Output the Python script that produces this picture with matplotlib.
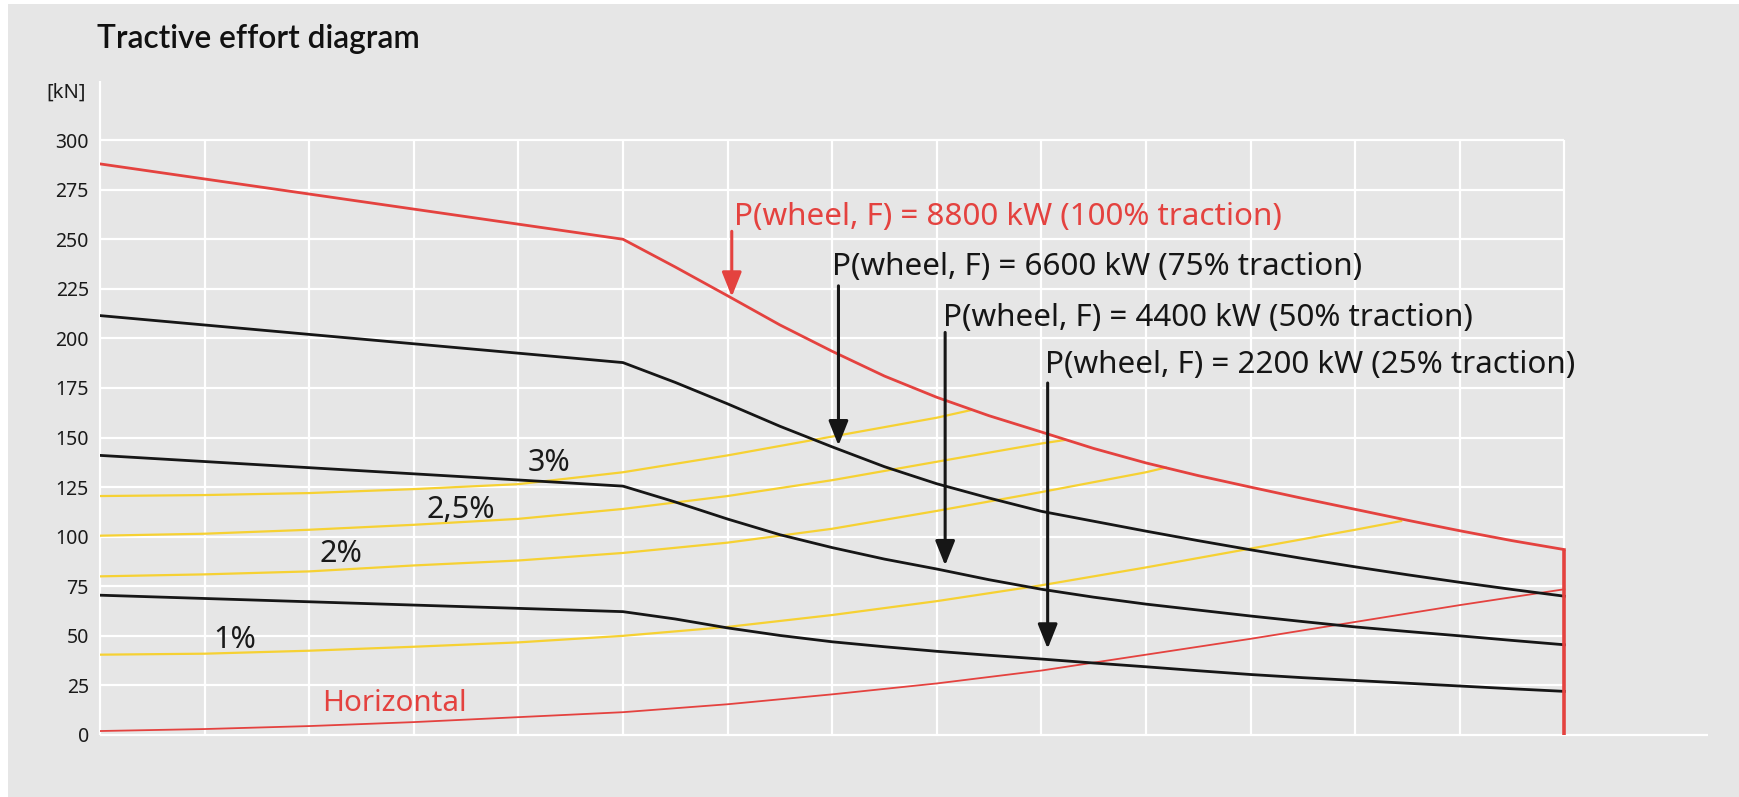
#!/usr/bin/env python3
# -*- coding: utf-8 -*-

"""
Tractive effort diagram: traction force over speed for four power levels,
with grade resistance curves (1 % .. 3 %) and the horizontal resistance.
"""

import matplotlib
matplotlib.use('Agg')  # no display
import matplotlib.pyplot as plt


# speed steps (one grid column per step, no labels on the x axis)
x_full = [0, 5, 5.5, 6, 6.5, 7, 7.5, 8, 8.5, 9, 9.5, 10, 10.5, 11, 11.5,
          12, 12.5, 13, 13.5, 14]

# tractive effort [kN] for 100 / 75 / 50 / 25 % traction
effort_100 = [288, 250, 236, 221.5, 206.8, 193.5, 181, 170.3, 161, 152.8, 144.5,
              137.2, 130.8, 125, 119.3, 113.8, 108.3, 103, 98, 93.5]
effort_75 = [211.5, 187.8, 177.8, 167, 155.7, 145.3, 135.3, 126.7, 119.5, 112.8,
             107.8, 102.8, 98, 93.4, 89, 84.8, 80.8, 77, 73.4, 70]
effort_50 = [141, 125.5, 117.5, 108.9, 101, 94.5, 88.7, 83.7, 78.3, 73.5,
             69.5, 66, 63, 60, 57.2, 54.5, 52.2, 50, 47.7, 45.5]
effort_25 = [70.5, 62.2, 58.5, 54, 50.2, 47, 44.5, 42.2, 40.2, 38.3,
             36.3, 34.4, 32.4, 30.5, 28.9, 27.5, 26.1, 24.7, 23.3, 22]

# running resistance on level track [kN]
x_horizontal = [0, 1, 2, 3, 4, 5, 6, 7, 8, 9, 10, 11, 12, 13, 14]
res_horizontal = [2, 3, 4.5, 6.5, 9, 11.5, 15.5, 20.5, 26, 32.5, 40.5, 48.5, 57, 65.5, 73.5]

# resistance on gradients [kN], each ends where it meets the 100 % curve
x_grade_1 = [0, 1, 2, 3, 4, 5, 6, 7, 8, 9, 10, 11, 12, 12.45]
res_grade_1 = [40.5, 41, 42.5, 44.5, 46.7, 50, 54.5, 60.5, 67.5, 75.5, 84.5, 94, 103.5, 108]
x_grade_2 = [0, 1, 2, 3, 4, 5, 6, 7, 8, 9, 10, 10.2]
res_grade_2 = [80, 81, 82.5, 85.5, 88, 91.8, 97, 104, 113, 122.5, 132.5, 135]
x_grade_25 = [0, 1, 2, 3, 4, 5, 6, 7, 8, 9, 9.23]
res_grade_25 = [100.5, 101.5, 103.5, 106, 109, 114, 120.5, 128.5, 137.8, 147, 148.8]
x_grade_3 = [0, 1, 2, 3, 4, 5, 6, 7, 8, 8.34]
res_grade_3 = [120.5, 121, 122, 124, 126.5, 132.5, 141, 150.5, 160, 164]

y_ticks = [0, 25, 50, 75, 100, 125, 150, 175, 200, 225, 250, 275, 300]

power_labels = [
    'P(wheel, F) = 8800 kW (100% traction)',
    'P(wheel, F) = 6600 kW (75% traction)',
    'P(wheel, F) = 4400 kW (50% traction)',
    'P(wheel, F) = 2200 kW (25% traction)',
]

BG = '#e6e6e6'
RED = '#e4423f'
BLACK = '#161616'
YELLOW = '#f6d133'


def plot_tractive_effort(output_file='out.png'):
    plt.rcParams['font.family'] = ['Noto Sans', 'DejaVu Sans']

    fig = plt.figure(figsize=(17.39, 7.97), dpi=100, facecolor='white')
    # grey panel with a thin white rim on top and left
    fig.patches.append(plt.Rectangle((8 / 1739, 0), 1, 1 - 4 / 797,
                                     transform=fig.transFigure,
                                     facecolor=BG, edgecolor='none', zorder=-5))

    ax = fig.add_axes([0.0575, 0.0778, 0.9323, 0.8335])
    ax.set_facecolor('none')
    ax.set_xlim(0, 15.5)
    ax.set_ylim(0, 335)
    for side in ax.spines.values():
        side.set_visible(False)

    # white grid, only inside the 0..14 / 0..300 field
    ax.hlines(y_ticks[1:], 0, 14, color='white', lw=1.6, zorder=1)
    ax.vlines(range(1, 15), 0, 300, color='white', lw=1.6, zorder=1)
    ax.vlines(0, 0, 330, color='white', lw=1.6, zorder=1, clip_on=False)
    ax.hlines(0, 0, 15.37, color='white', lw=1.6, zorder=1, clip_on=False)

    ax.set_xticks([])
    ax.set_yticks(y_ticks)
    ax.set_yticklabels([str(t) for t in y_ticks])
    ax.tick_params(axis='y', length=0, pad=8, labelsize=14, labelcolor='#1a1a1a')

    # gradient curves
    for xs, ys in [(x_grade_1, res_grade_1), (x_grade_2, res_grade_2),
                   (x_grade_25, res_grade_25), (x_grade_3, res_grade_3)]:
        ax.plot(xs, ys, color=YELLOW, lw=1.6, zorder=2, solid_capstyle='butt')

    ax.plot(x_horizontal, res_horizontal, color=RED, lw=1.3, zorder=3)

    for ys in [effort_75, effort_50, effort_25]:
        ax.plot(x_full, ys, color=BLACK, lw=2.0, zorder=4)
    ax.plot(x_full, effort_100, color=RED, lw=2.0, zorder=5)
    # end of the power range
    ax.vlines(x_full[-1], 0, effort_100[-1], color=RED, lw=2.6, zorder=5)

    # grade labels
    label_kw = dict(fontsize=22, va='baseline', ha='left', color='#1a1a1a', zorder=6)
    ax.text(4.09, 133, '3%', **label_kw)
    ax.text(3.12, 109.5, '2,5%', **label_kw)
    ax.text(2.10, 87, '2%', **label_kw)
    ax.text(1.08, 44, '1%', **label_kw)
    ax.text(2.12, 12, 'Horizontal', fontsize=21.3, va='baseline', ha='left',
            color=RED, zorder=6)

    # power annotations with arrows onto the curves
    text_pos = [(6.06, 257), (7.0, 232), (8.06, 206), (9.03, 182.6)]
    arrow_tail = [(6.04, 254), (7.06, 226.5), (8.08, 203), (9.06, 177.5)]
    arrow_tip = [(6.04, 221), (7.06, 146), (8.08, 85.5), (9.06, 43.5)]
    colors = [RED, BLACK, BLACK, BLACK]
    for label, pos, tail, tip, col in zip(power_labels, text_pos, arrow_tail,
                                          arrow_tip, colors):
        ax.text(pos[0], pos[1], label, fontsize=22.6, color=col, ha='left',
                va='baseline', zorder=7)
        ax.annotate('', xy=tip, xytext=tail, zorder=7,
                    arrowprops=dict(arrowstyle='-|>,head_length=0.75,head_width=0.3',
                                    mutation_scale=20, lw=2.2, color=col,
                                    shrinkA=0, shrinkB=0))

    fig.text(97 / 1739, 1 - 48 / 797, 'Tractive effort diagram', fontsize=22.8,
             family=['Lato', 'DejaVu Sans'], fontweight='semibold',
             ha='left', va='baseline', color='#111111')
    fig.text(86 / 1739, 1 - 98 / 797, '[kN]', fontsize=14.5, ha='right',
             va='baseline', color='#1a1a1a')

    fig.savefig(output_file, dpi=100, facecolor=fig.get_facecolor())
    plt.close(fig)


def main():
    plot_tractive_effort('out.png')


if __name__ == '__main__':
    main()
